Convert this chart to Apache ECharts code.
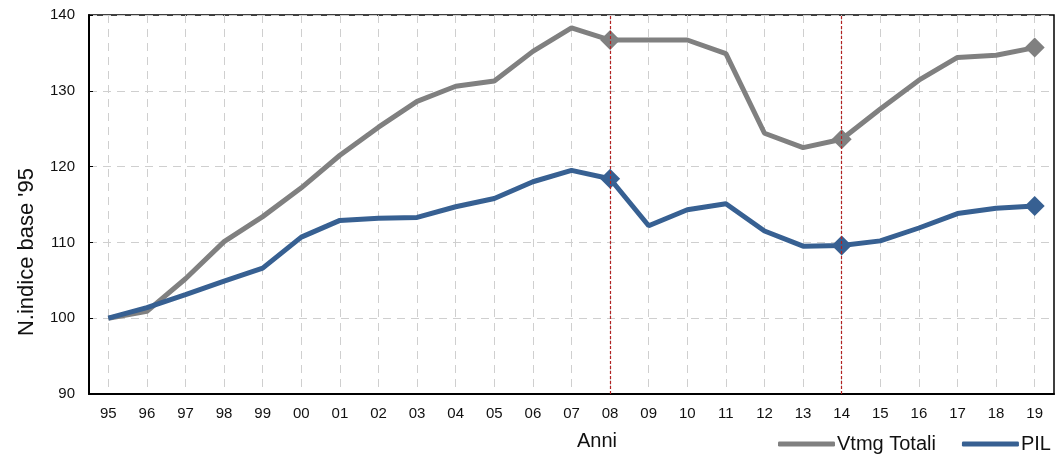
<!DOCTYPE html>
<html>
<head>
<meta charset="utf-8">
<script src="https://cdn.jsdelivr.net/npm/echarts@6/dist/echarts.min.js"></script>
<style>
  html, body { margin: 0; padding: 0; background: #fff; }
  #chart { width: 1062px; height: 459px; }
</style>
</head>
<body>
<div id="chart"></div>
<script>
// years on the x axis
const years = ["95", "96", "97", "98", "99", "00", "01", "02", "03", "04", "05", "06", "07",
  "08", "09", "10", "11", "12", "13", "14", "15", "16", "17", "18", "19"];
// index numbers, base 1995 = 100
const vtmgTotali = [100, 100.9, 105.2, 110.1, 113.4, 117.2, 121.5, 125.2, 128.6, 130.6, 131.3, 135.2, 138.3,
  136.7, 136.7, 136.7, 134.9, 124.4, 122.5, 123.6, 127.6, 131.4, 134.4, 134.7, 135.7];
const pil = [100, 101.4, 103.1, 104.9, 106.6, 110.7, 112.9, 113.2, 113.3, 114.7, 115.8, 118.0, 119.5,
  118.4, 112.2, 114.3, 115.1, 111.5, 109.5, 109.6, 110.2, 111.9, 113.8, 114.5, 114.8];
// years marked with a diamond
const markedYears = ["08", "14", "19"];
// years with the red dashed reference line
const refYears = ["08", "14"];

const FONT = "'Liberation Sans', Arial, sans-serif";

const chart = echarts.init(document.getElementById("chart"));

const diamond = (value, params) =>
  markedYears.includes(years[params.dataIndex]) ? "diamond" : "none";

const options = {
  animation: false,
  grid: {
    left: 89,
    right: 8,
    top: 15,
    bottom: 65,
    show: true,
    borderColor: "#000",
    borderWidth: 1.5,
  },
  legend: {
    left: 773,
    top: 429,
    itemWidth: 57,
    itemHeight: 5,
    itemGap: 26,
    textStyle: { fontFamily: FONT, fontSize: 20, color: "#111", padding: [0, 0, 0, -3] },
    data: [
      { name: "Vtmg Totali", icon: "roundRect" },
      { name: "PIL", icon: "roundRect" },
    ],
  },
  graphic: [
    {
      type: "text",
      x: 27,
      y: 252,
      rotation: Math.PI / 2,
      style: {
        text: "N.indice base '95",
        font: "22px " + FONT,
        fill: "#111",
        align: "center",
        verticalAlign: "middle",
      },
    },
    {
      type: "text",
      x: 597,
      y: 441,
      style: {
        text: "Anni",
        font: "20px " + FONT,
        fill: "#111",
        align: "center",
        verticalAlign: "middle",
      },
    },
  ],
  xAxis: {
    type: "category",
    data: years,
    boundaryGap: true,
    axisLine: { lineStyle: { color: "#000", width: 2 } },
    axisTick: { inside: true, length: 4, alignWithLabel: true, lineStyle: { color: "#000" } },
    axisLabel: { fontFamily: FONT, fontSize: 15, color: "#111", margin: 12 },
    splitLine: {
      show: true,
      alignWithLabel: true,
      lineStyle: { color: "#cfcfcf", type: [8, 6], width: 1 },
    },
  },
  yAxis: {
    type: "value",
    min: 90,
    max: 140,
    interval: 10,
    axisLine: { show: true, lineStyle: { color: "#000", width: 2 } },
    axisTick: { show: true, inside: true, length: 4, lineStyle: { color: "#000" } },
    axisLabel: { fontFamily: FONT, fontSize: 15, color: "#111", margin: 14 },
    splitLine: { lineStyle: { color: "#cfcfcf", type: [8, 6], width: 1 } },
  },
  series: [
    {
      name: "Vtmg Totali",
      type: "line",
      data: vtmgTotali,
      symbol: diamond,
      symbolSize: 20,
      color: "#808080",
      lineStyle: { width: 5, color: "#808080" },
      z: 3,
      markLine: {
        silent: true,
        symbol: "none",
        label: { show: false },
        lineStyle: { color: "#b22222", type: [3, 2], width: 1.2 },
        data: refYears.map((y) => ({ xAxis: y })),
      },
    },
    {
      name: "PIL",
      type: "line",
      data: pil,
      symbol: diamond,
      symbolSize: 20,
      color: "#376092",
      lineStyle: { width: 5, color: "#376092" },
      z: 4,
    },
  ],
};

chart.setOption(options);
</script>
</body>
</html>
